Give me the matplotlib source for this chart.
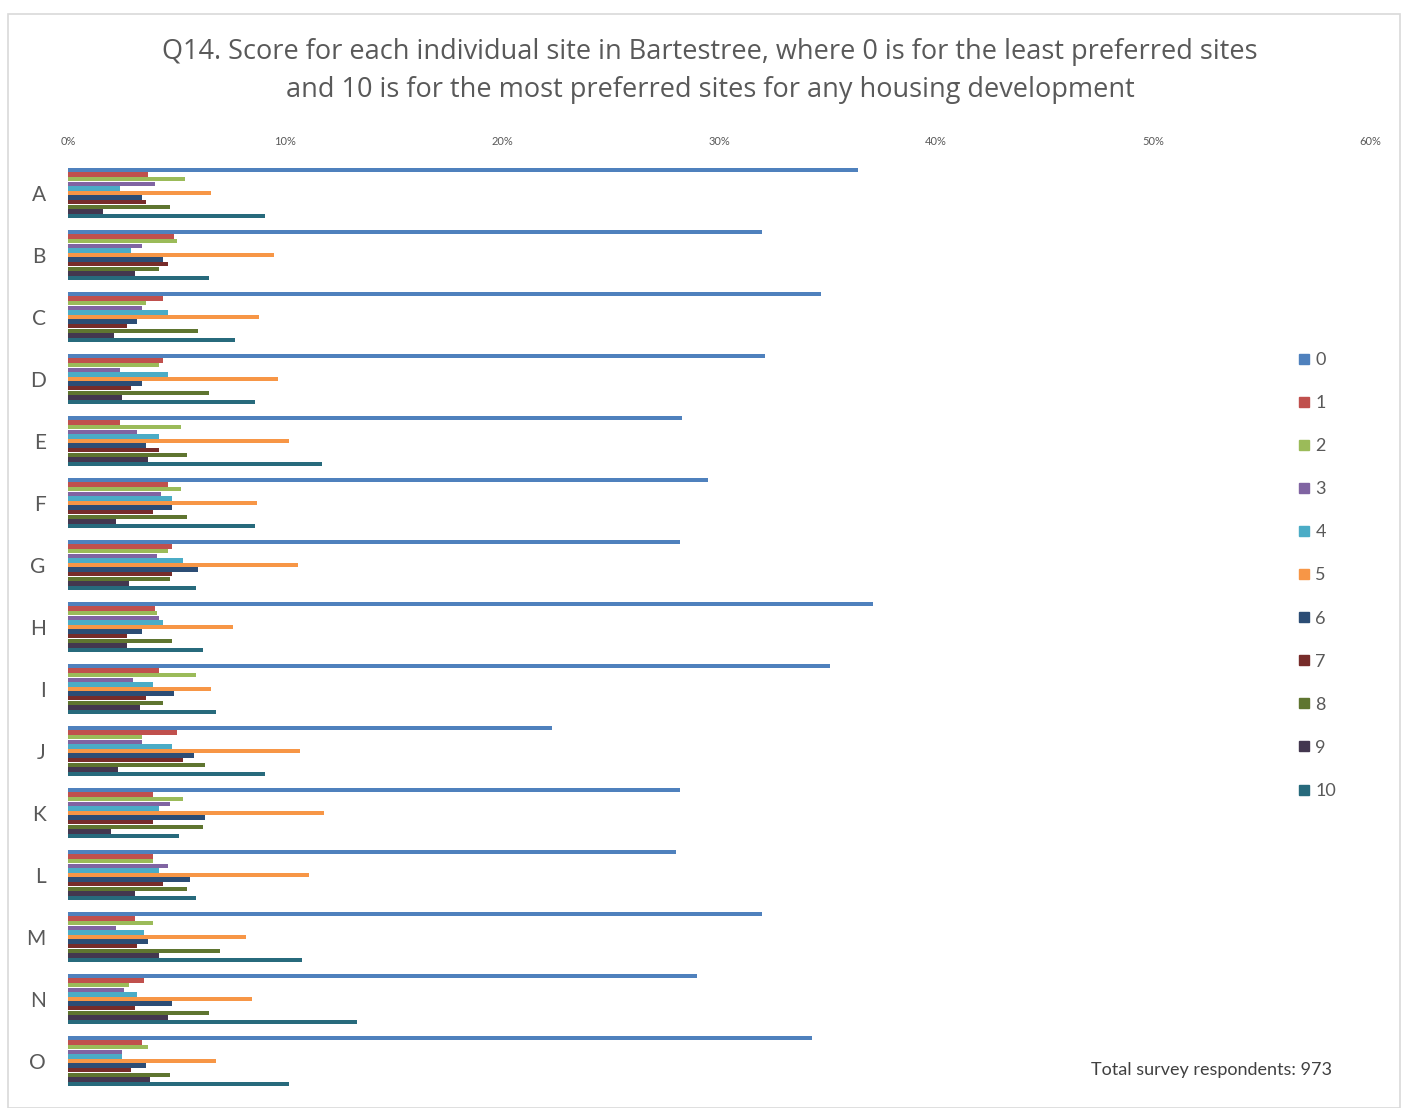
import numpy as np
import matplotlib.pyplot as plt
from matplotlib.patches import Rectangle
from matplotlib.lines import Line2D

plt.rcParams['font.family'] = ['Lato', 'DejaVu Sans']

sites = list("ABCDEFGHIJKLMNO")
scores = [str(i) for i in range(11)]

# percentage of respondents giving each score (0..10), per site
s0 = [36.4, 32.0, 34.7, 32.1, 28.3, 29.5, 28.2, 37.1, 35.1, 22.3, 28.2, 28.0, 32.0, 29.0, 34.3]
s1 = [3.7, 4.9, 4.4, 4.4, 2.4, 4.6, 4.8, 4.0, 4.2, 5.0, 3.9, 3.9, 3.1, 3.5, 3.4]
s2 = [5.4, 5.0, 3.6, 4.2, 5.2, 5.2, 4.6, 4.1, 5.9, 3.4, 5.3, 3.9, 3.9, 2.8, 3.7]
s3 = [4.0, 3.4, 3.4, 2.4, 3.2, 4.3, 4.1, 4.2, 3.0, 3.4, 4.7, 4.6, 2.2, 2.6, 2.5]
s4 = [2.4, 2.9, 4.6, 4.6, 4.2, 4.8, 5.3, 4.4, 3.9, 4.8, 4.2, 4.2, 3.5, 3.2, 2.5]
s5 = [6.6, 9.5, 8.8, 9.7, 10.2, 8.7, 10.6, 7.6, 6.6, 10.7, 11.8, 11.1, 8.2, 8.5, 6.8]
s6 = [3.4, 4.4, 3.2, 3.4, 3.6, 4.8, 6.0, 3.4, 4.9, 5.8, 6.3, 5.6, 3.7, 4.8, 3.6]
s7 = [3.6, 4.6, 2.7, 2.9, 4.2, 3.9, 4.8, 2.7, 3.6, 5.3, 3.9, 4.4, 3.2, 3.1, 2.9]
s8 = [4.7, 4.2, 6.0, 6.5, 5.5, 5.5, 4.7, 4.8, 4.4, 6.3, 6.2, 5.5, 7.0, 6.5, 4.7]
s9 = [1.6, 3.1, 2.1, 2.5, 3.7, 2.2, 2.8, 2.7, 3.3, 2.3, 2.0, 3.1, 4.2, 4.6, 3.8]
s10 = [9.1, 6.5, 7.7, 8.6, 11.7, 8.6, 5.9, 6.2, 6.8, 9.1, 5.1, 5.9, 10.8, 13.3, 10.2]
series = [s0, s1, s2, s3, s4, s5, s6, s7, s8, s9, s10]

colors = ['#4F81BD', '#C0504D', '#9BBB59', '#8064A2', '#4BACC6', '#F79646',
          '#2C4D75', '#772C2A', '#5F7530', '#43374F', '#276A7C']
grey = '#595959'

fig = plt.figure(figsize=(14.01, 11.08), dpi=100)
fig.patches.append(Rectangle((8 / 1401, 0), 1 - 9 / 1401, 1 - 14 / 1108,
                             transform=fig.transFigure, fill=False,
                             edgecolor='#D9D9D9', linewidth=1.2))

ax = fig.add_axes([68 / 1401, 1 - 1092 / 1108, (1370 - 68) / 1401, (1092 - 162) / 1108])

n = len(series)
group = 0.82
h = group / n
y = np.arange(len(sites))
for i, vals in enumerate(series):
    ax.barh(y - group / 2 + h * (i + 0.5), vals, height=h * 0.92,
            color=colors[i], label=scores[i])

ax.set_xlim(0, 60)
ax.set_ylim(len(sites) - 0.5, -0.5)
ax.set_yticks(y)
ax.set_yticklabels(sites, fontsize=15, color=grey)
ax.set_xticks(np.arange(0, 61, 10))
ax.set_xticklabels([f'{v}%' for v in range(0, 61, 10)], fontsize=8, color=grey)
ax.xaxis.tick_top()
ax.tick_params(axis='both', length=0)
ax.tick_params(axis='x', pad=11)
ax.tick_params(axis='y', pad=16)
for sp in ax.spines.values():
    sp.set_visible(False)

title_kw = dict(ha='center', va='center', fontsize=19.5, color=grey,
                family=['Open Sans', 'DejaVu Sans'])
fig.text(0.507, 1 - 52 / 1108,
         'Q14. Score for each individual site in Bartestree, where 0 is for the least preferred sites',
         **title_kw)
fig.text(0.507, 1 - 90 / 1108,
         'and 10 is for the most preferred sites for any housing development',
         **title_kw)

handles = [Line2D([0], [0], marker='s', linestyle='none', markersize=7,
                  color=c) for c in colors]
fig.legend(handles, scores, loc='upper left',
           bbox_to_anchor=(1290 / 1401, 1 - 343 / 1108), frameon=False,
           fontsize=13, labelcolor=grey, handlelength=0.6, handletextpad=0.3,
           labelspacing=1.5, borderpad=0)

fig.text(1332 / 1401, 1 - 1070 / 1108, 'Total survey respondents: 973',
         ha='right', va='center', fontsize=13, color='#404040')

fig.savefig('out.png', dpi=100)
